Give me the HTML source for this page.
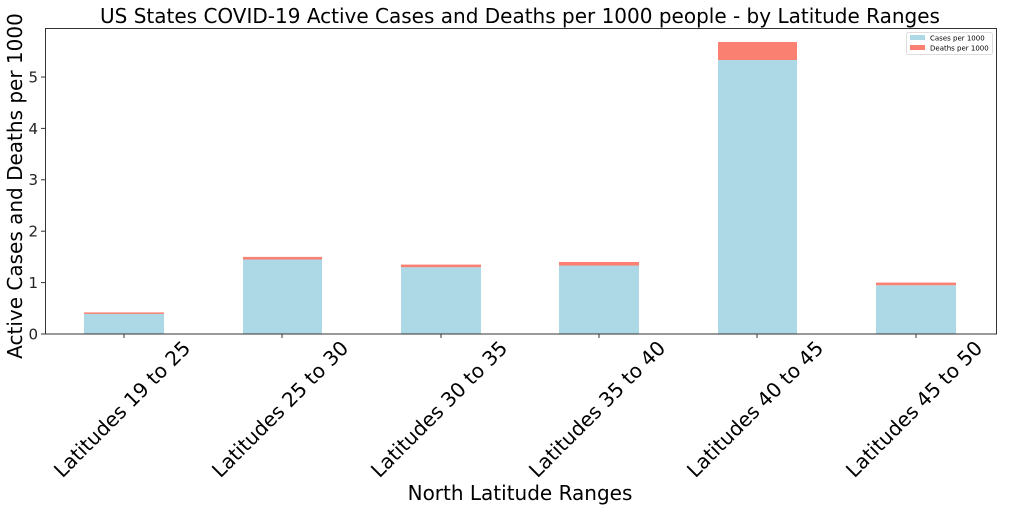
<!DOCTYPE html>
<html><head><style>body{margin:0;background:#fff}</style></head><body>
<svg width="1024" height="512" xmlns="http://www.w3.org/2000/svg" font-family="DejaVu Sans, sans-serif">
<rect width="1024" height="512" fill="#fff"/>
<text x="520" y="23" font-size="20" text-anchor="middle" fill="#000">US States COVID-19 Active Cases and Deaths per 1000 people - by Latitude Ranges</text>
<g id="bars">
<rect x="84" y="313.4" width="80" height="20.6" fill="#add8e6"/>
<rect x="84" y="312.4" width="80" height="1.5" fill="#fa8072"/>
<rect x="243" y="259.5" width="79" height="74.5" fill="#add8e6"/>
<rect x="243" y="256.9" width="79" height="2.6" fill="#fa8072"/>
<rect x="401" y="267.2" width="80" height="66.8" fill="#add8e6"/>
<rect x="401" y="264.6" width="80" height="2.6" fill="#fa8072"/>
<rect x="559" y="265.6" width="80" height="68.4" fill="#add8e6"/>
<rect x="559" y="262.0" width="80" height="3.6" fill="#fa8072"/>
<rect x="718" y="60.0" width="79" height="274" fill="#add8e6"/>
<rect x="718" y="42.0" width="79" height="18" fill="#fa8072"/>
<rect x="876" y="285.2" width="80" height="48.8" fill="#add8e6"/>
<rect x="876" y="282.6" width="80" height="2.6" fill="#fa8072"/>
</g>
<rect x="45.5" y="28.5" width="951" height="305.5" fill="none" stroke="#333" stroke-width="1"/>
<g font-size="15" text-anchor="end" fill="#222">
<line x1="41" x2="45" y1="334" y2="334" stroke="#333"/><text x="38" y="339.5">0</text>
<line x1="41" x2="45" y1="282.6" y2="282.6" stroke="#333"/><text x="38" y="288">1</text>
<line x1="41" x2="45" y1="231.2" y2="231.2" stroke="#333"/><text x="38" y="236.5">2</text>
<line x1="41" x2="45" y1="179.8" y2="179.8" stroke="#333"/><text x="38" y="185">3</text>
<line x1="41" x2="45" y1="128.4" y2="128.4" stroke="#333"/><text x="38" y="134">4</text>
<line x1="41" x2="45" y1="77" y2="77" stroke="#333"/><text x="38" y="82.5">5</text>
</g>
<g stroke="#333"><line x1="124" x2="124" y1="334" y2="338"/><line x1="282" x2="282" y1="334" y2="338"/><line x1="441" x2="441" y1="334" y2="338"/><line x1="599" x2="599" y1="334" y2="338"/><line x1="757" x2="757" y1="334" y2="338"/><line x1="916" x2="916" y1="334" y2="338"/></g>
<g font-size="20" text-anchor="middle" fill="#000">
<text transform="translate(122,409) rotate(-45)" dy="7">Latitudes 19 to 25</text>
<text transform="translate(280,409) rotate(-45)" dy="7">Latitudes 25 to 30</text>
<text transform="translate(439,409) rotate(-45)" dy="7">Latitudes 30 to 35</text>
<text transform="translate(597,409) rotate(-45)" dy="7">Latitudes 35 to 40</text>
<text transform="translate(755,409) rotate(-45)" dy="7">Latitudes 40 to 45</text>
<text transform="translate(914,409) rotate(-45)" dy="7">Latitudes 45 to 50</text>
</g>
<text x="520" y="500" font-size="20" text-anchor="middle">North Latitude Ranges</text>
<text transform="translate(22,186) rotate(-90)" font-size="20" text-anchor="middle">Active Cases and Deaths per 1000</text>
<rect x="906.5" y="32.5" width="86" height="22" fill="#fff" stroke="#ddd" rx="2"/>
<rect x="910" y="35" width="15" height="5" fill="#add8e6"/>
<rect x="910" y="45" width="15" height="5" fill="#fa8072"/>
<g font-size="7" fill="#000"><text x="930" y="40.5">Cases per 1000</text><text x="930" y="50.5">Deaths per 1000</text></g>
</svg>
</body></html>
